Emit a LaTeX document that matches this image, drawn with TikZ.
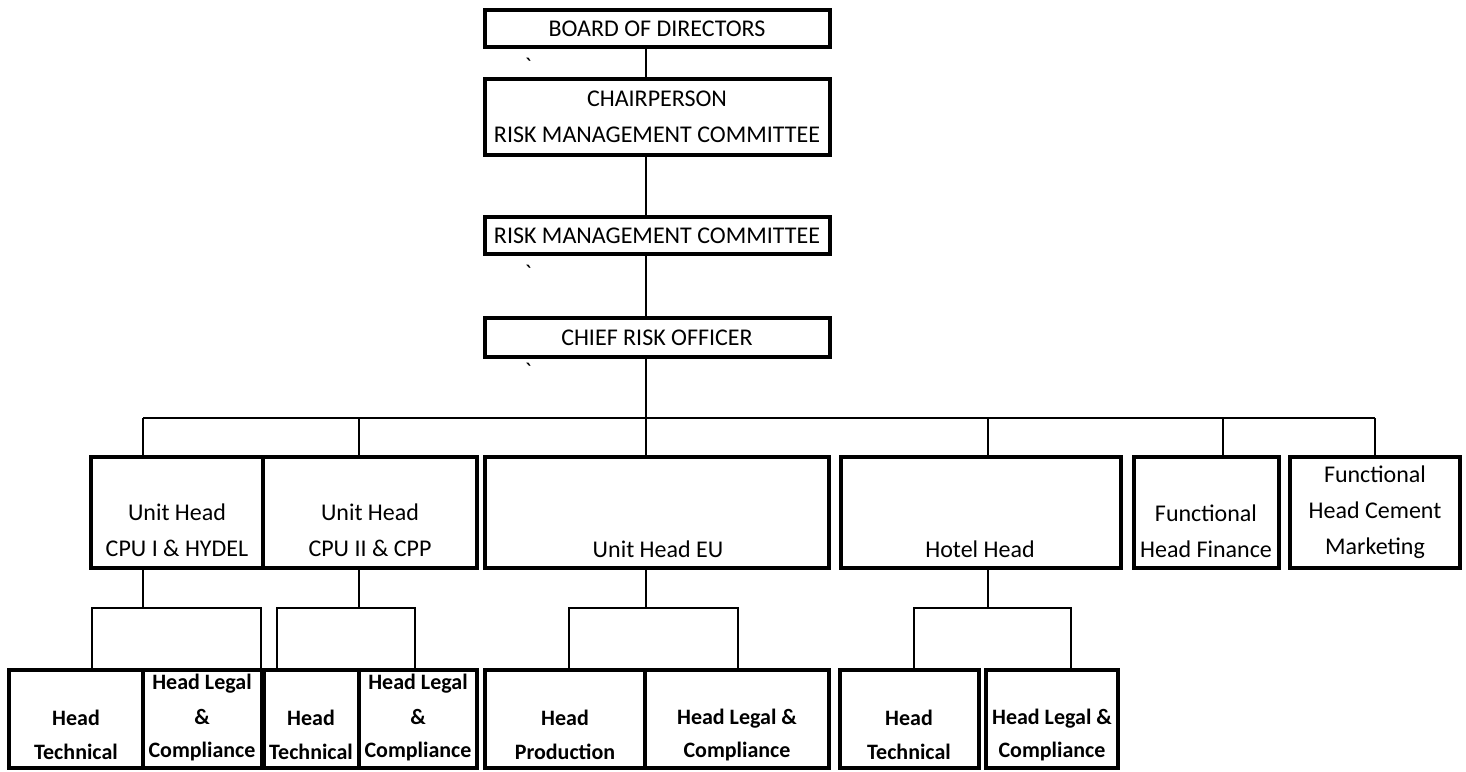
\documentclass[tikz,border=0pt]{standalone}
\usepackage{fontspec}
\setmainfont{Carlito}
\usetikzlibrary{fit,calc}
\tikzset{
  box/.style={draw=black, line width=1.6pt, inner sep=0pt, rectangle},
  conn/.style={draw=black, line width=1pt},
  uptxt/.style={align=center, inner sep=0pt, font=\fontsize{12}{18}\selectfont},
  lowtxt/.style={align=center, inner sep=0pt, font=\fontsize{11}{17}\selectfont\bfseries},
  tick/.style={inner sep=0pt, font=\fontsize{12}{14}\selectfont}
}
\begin{document}
\begin{tikzpicture}[x=0.5pt,y=-0.5pt]
\fill[white] (0,0) rectangle (1466,771);
\useasboundingbox (0,0) rectangle (1466,771);

% top chain
\node[box, fit={(485,10)(830,47)}] (board) {};
\node[uptxt] (boardt) at (657,29) {BOARD OF DIRECTORS};
\node[box, fit={(485,79)(830,155)}] (chair) {};
\node[uptxt] (chairt) at (657,117) {CHAIRPERSON\\RISK MANAGEMENT COMMITTEE};
\node[box, fit={(485,217)(830,254)}] (rmc) {};
\node[uptxt] (rmct) at (657,236) {RISK MANAGEMENT COMMITTEE};
\node[box, fit={(485,318)(830,357)}] (cro) {};
\node[uptxt] (crot) at (657,338) {CHIEF RISK OFFICER};

\node[tick] (k1) at (528,66) {\textasciigrave};
\node[tick] (k2) at (528,273) {\textasciigrave};
\node[tick] (k3) at (528,371) {\textasciigrave};

% second level
\node[box, fit={(91,457)(263,568)}] (u1) {};
\node[uptxt] (u1t) at (177,530) {Unit Head\\CPU I \& HYDEL};
\node[box, fit={(263,457)(477,568)}] (u2) {};
\node[uptxt] (u2t) at (370,530) {Unit Head\\CPU II \& CPP};
\node[box, fit={(485,457)(829,568)}] (eu) {};
\node[uptxt] (eut) at (658,549) {Unit Head EU};
\node[box, fit={(841,457)(1121,568)}] (hotel) {};
\node[uptxt] (hotelt) at (980,549) {Hotel Head};
\node[box, fit={(1134,457)(1279,568)}] (fin) {};
\node[uptxt] (fint) at (1206,531) {Functional\\Head Finance};
\node[box, fit={(1290,457)(1460,568)}] (cem) {};
\node[uptxt] (cemt) at (1375,512) {Functional\\Head Cement\\Marketing};

% bottom level
\node[box, fit={(9,670)(143,768)}] (b1) {};
\node[lowtxt] (b1t) at (76,735) {Head\\Technical};
\node[box, fit={(143,670)(262,768)}] (b2) {};
\node[lowtxt] (b2t) at (202,718) {Head Legal\\\&\\Compliance};
\node[box, fit={(264,670)(359,768)}] (b3) {};
\node[lowtxt] (b3t) at (311,735) {Head\\Technical};
\node[box, fit={(359,670)(477,768)}] (b4) {};
\node[lowtxt] (b4t) at (418,718) {Head Legal\\\&\\Compliance};
\node[box, fit={(485,670)(645,768)}] (b5) {};
\node[lowtxt] (b5t) at (565,735) {Head\\Production};
\node[box, fit={(645,670)(829,768)}] (b6) {};
\node[lowtxt] (b6t) at (737,735) {Head Legal \&\\Compliance};
\node[box, fit={(840,670)(979,768)}] (b7) {};
\node[lowtxt] (b7t) at (909,735) {Head\\Technical};
\node[box, fit={(986,670)(1118,768)}] (b8) {};
\node[lowtxt] (b8t) at (1052,735) {Head Legal \&\\Compliance};

% spine
\coordinate (spine) at (646,0);
\draw[conn] (board.south -| spine) -- (chair.north -| spine);
\draw[conn] (chair.south -| spine) -- (rmc.north -| spine);
\draw[conn] (rmc.south -| spine) -- (cro.north -| spine);

% bus
\coordinate (t1) at (143,418);
\coordinate (t2) at (359,418);
\coordinate (t3) at (646,418);
\coordinate (t4) at (988,418);
\coordinate (t5) at (1223,418);
\coordinate (t6) at (1375,418);
\draw[conn] (cro.south -| t3) -- (t3);
\draw[conn] (t1) -- (t6);
\draw[conn] (t1) -- (u1.north -| t1);
\draw[conn] (t2) -- (u2.north -| t2);
\draw[conn] (t3) -- (eu.north -| t3);
\draw[conn] (t4) -- (hotel.north -| t4);
\draw[conn] (t5) -- (fin.north -| t5);
\draw[conn] (t6) -- (cem.north -| t6);

% sub-trees
\coordinate (l1) at (92,608);  \coordinate (j1) at (143,608);  \coordinate (r1) at (261,608);
\coordinate (l2) at (277,608); \coordinate (j2) at (359,608);  \coordinate (r2) at (415,608);
\coordinate (l3) at (569,608); \coordinate (j3) at (646,608);  \coordinate (r3) at (738,608);
\coordinate (l4) at (914,608); \coordinate (j4) at (988,608);  \coordinate (r4) at (1071,608);

\draw[conn] (u1.south -| j1) -- (j1);
\draw[conn] (b1.north -| l1) -- (l1) -- (r1) -- (b2.north -| r1);
\draw[conn] (u2.south -| j2) -- (j2);
\draw[conn] (b3.north -| l2) -- (l2) -- (r2) -- (b4.north -| r2);
\draw[conn] (eu.south -| j3) -- (j3);
\draw[conn] (b5.north -| l3) -- (l3) -- (r3) -- (b6.north -| r3);
\draw[conn] (hotel.south -| j4) -- (j4);
\draw[conn] (b7.north -| l4) -- (l4) -- (r4) -- (b8.north -| r4);
\end{tikzpicture}
\end{document}
